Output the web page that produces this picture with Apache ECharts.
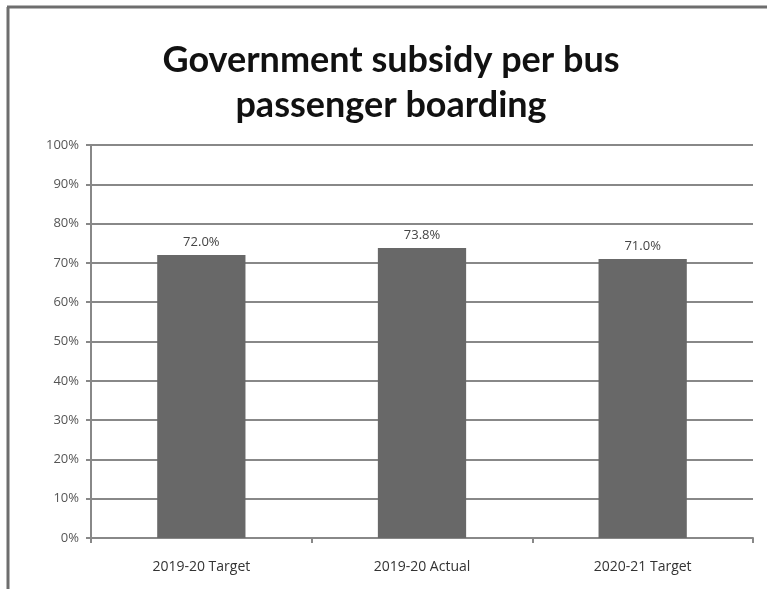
<!DOCTYPE html>
<html><head><meta charset="utf-8">
<script src="https://cdn.jsdelivr.net/npm/echarts@6/dist/echarts.min.js"></script>
<style>html,body{margin:0;padding:0;background:#fff}#c{width:767px;height:589px}</style>
</head><body><div id="c"></div>
<script>
const categories = ['2019-20 Target', '2019-20 Actual', '2020-21 Target'];
const values = [72.0, 73.8, 71.0];
const yTicks = [0, 10, 20, 30, 40, 50, 60, 70, 80, 90, 100];
const titleText = 'Government subsidy per bus\npassenger boarding';

const chart = echarts.init(document.getElementById('c'));
chart.setOption({
  animation: false,
  backgroundColor: '#fff',
  graphic: [
    {type: 'line', shape: {x1: 7, y1: 7, x2: 767, y2: 7}, style: {stroke: '#6e6e6e', lineWidth: 3}},
    {type: 'line', shape: {x1: 8, y1: 7, x2: 8, y2: 589}, style: {stroke: '#6e6e6e', lineWidth: 3}},
    {type: 'text', x: 391, y: 38, style: {
      text: titleText, textAlign: 'center', textVerticalAlign: 'top',
      fontFamily: 'Lato', fontWeight: 'bold', fontSize: 36, lineHeight: 45, fill: '#111'}}
  ],
  grid: {left: 91, right: 14, top: 145, bottom: 51},
  xAxis: {
    type: 'category', data: categories,
    axisLine: {lineStyle: {color: '#888', width: 2}},
    axisTick: {show: true, length: 5, lineStyle: {color: '#888', width: 2}},
    axisLabel: {color: '#333', fontFamily: 'Open Sans', fontSize: 14, margin: 22}
  },
  yAxis: {
    type: 'value', min: yTicks[0], max: yTicks[yTicks.length - 1], interval: 10,
    axisLine: {show: true, lineStyle: {color: '#888', width: 2}},
    axisTick: {show: true, length: 5, lineStyle: {color: '#888', width: 2}},
    splitLine: {lineStyle: {color: '#888', width: 2}},
    axisLabel: {color: '#555', fontFamily: 'Open Sans', fontSize: 13, margin: 12, formatter: v => v + '%'}
  },
  series: [{
    type: 'bar', data: values, barWidth: '40%',
    itemStyle: {color: '#686868'},
    label: {show: true, position: 'top', distance: 6, color: '#444', fontFamily: 'Open Sans', fontSize: 13,
      formatter: p => p.value.toFixed(1) + '%'}
  }]
});
</script></body></html>
